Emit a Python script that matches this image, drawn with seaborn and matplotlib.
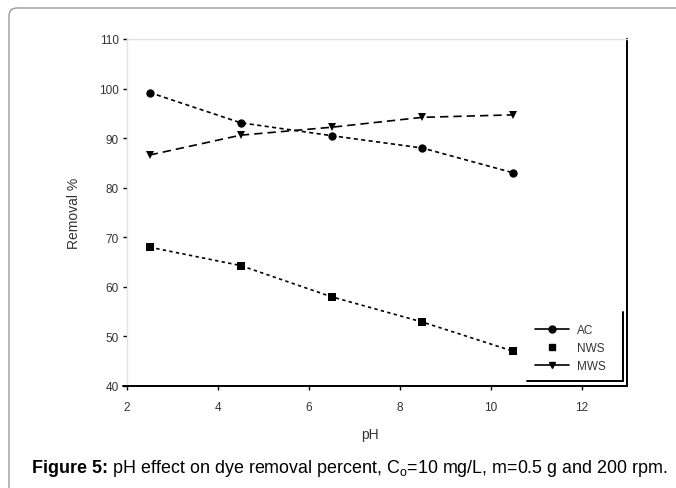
import pandas as pd
import seaborn as sns
import matplotlib.pyplot as plt
from matplotlib.lines import Line2D
from matplotlib.patches import FancyBboxPatch

# pH effect on dye removal percent

# === data ===
ph = [2.5, 4.5, 6.5, 8.5, 10.5]
ac = [99.2, 93.1, 90.5, 88.0, 83.0]
nws = [68.0, 64.3, 58.0, 52.9, 47.0]
mws = [86.6, 90.6, 92.2, 94.2, 94.7]
series_names = ["AC", "NWS", "MWS"]
x_ticks = [2, 4, 6, 8, 10, 12]
y_ticks = [40, 50, 60, 70, 80, 90, 100, 110]

df = pd.concat([
    pd.DataFrame({"pH": ph, "removal": ac, "series": "AC"}),
    pd.DataFrame({"pH": ph, "removal": nws, "series": "NWS"}),
    pd.DataFrame({"pH": ph, "removal": mws, "series": "MWS"}),
], ignore_index=True)

markers = {"AC": "o", "NWS": "s", "MWS": "v"}
dashes = {"AC": (2.5, 2), "NWS": (2, 2), "MWS": (5, 3)}

sns.set_style("white")
plt.rcParams["font.family"] = ["Liberation Sans", "DejaVu Sans"]

fig = plt.figure(figsize=(6.76, 4.89), dpi=100)
ax = fig.add_axes([127 / 676, 1 - 387 / 489, 500 / 676, 347 / 489])

sns.lineplot(
    data=df, x="pH", y="removal", hue="series", style="series",
    palette={s: "black" for s in series_names},
    markers=markers, dashes=dashes, markersize=6, linewidth=1.2,
    markeredgewidth=0, legend=False, ax=ax,
)

ax.set_xlim(2, 13)
ax.set_ylim(40, 110)
ax.set_xticks(x_ticks)
ax.set_yticks(y_ticks)
ax.tick_params(axis="both", direction="out", length=3, width=1, color="black",
               labelsize=8.5, labelcolor="#333333", bottom=True, left=True)
ax.tick_params(axis="x", pad=8)
ax.tick_params(axis="y", pad=3)

ax.set_xlabel("pH", fontsize=10, color="#333333")
ax.set_ylabel("Removal %", fontsize=10, color="#333333")
ax.xaxis.set_label_coords(0.486, -0.118)
ax.yaxis.set_label_coords(-0.092, 0.5)

for side in ["top", "left"]:
    ax.spines[side].set_color("#e2e2e2")
    ax.spines[side].set_linewidth(1)
for side in ["bottom", "right"]:
    ax.spines[side].set_color("black")
    ax.spines[side].set_linewidth(1.4)
# bottom axis runs a little past the y axis
ax.add_line(Line2D([-0.008, 0], [0, 0], transform=ax.transAxes, color="black",
                   linewidth=1.4, clip_on=False))

# legend
handles = [
    Line2D([], [], color="black", marker="o", linestyle="-", markersize=5, linewidth=1.2),
    Line2D([], [], color="black", marker="s", linestyle="none", markersize=5),
    Line2D([], [], color="black", marker="v", linestyle="-", markersize=5, linewidth=1.2),
]
ax.legend(handles, series_names, loc="upper left", bbox_to_anchor=(0.815, 0.178),
          frameon=False, fontsize=8.5, handlelength=2.9, handletextpad=0.7,
          labelspacing=0.5, borderpad=0, borderaxespad=0, labelcolor="#333333")
ax.add_line(Line2D([0.992, 0.992], [0.214, 0.015], transform=ax.transAxes,
                   color="black", linewidth=1.4))
ax.add_line(Line2D([0.80, 0.992], [0.015, 0.015], transform=ax.transAxes,
                   color="black", linewidth=1.4))

# page frame
frame = FancyBboxPatch((0.09, -1.0), 9.0, 5.8, boxstyle="round,pad=0,rounding_size=0.08",
                       transform=fig.dpi_scale_trans, facecolor="none",
                       edgecolor="#9a9a9a", linewidth=1)
fig.add_artist(frame)

# caption
cap_y = 1 - 473 / 489
t1 = fig.text(32 / 676, cap_y, "Figure 5:", fontsize=12.85, fontweight="bold",
              va="baseline", ha="left", color="black")
fig.canvas.draw()
bb = t1.get_window_extent()
fig.text(bb.x1 / fig.bbox.width, cap_y,
         " pH effect on dye removal percent, C$_\\mathregular{o}$=10 mg/L, m=0.5 g and 200 rpm.",
         fontsize=12.85, va="baseline", ha="left", color="black")

plt.savefig("out.png", dpi=100)
